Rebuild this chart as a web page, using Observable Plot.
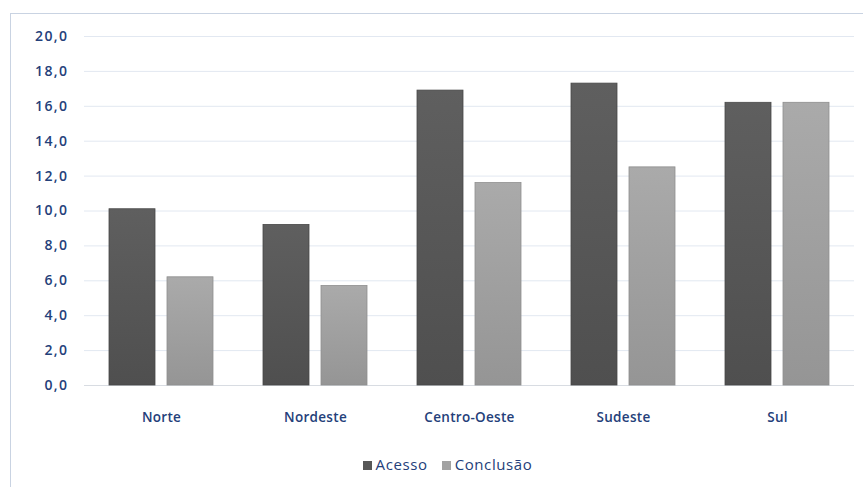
<!DOCTYPE html>
<html>
<head>
<meta charset="utf-8">
<script src="https://cdn.jsdelivr.net/npm/d3@7"></script>
<script src="https://cdn.jsdelivr.net/npm/@observablehq/plot@0.6"></script>
<style>
  html, body { margin: 0; padding: 0; background: #ffffff; }
  #wrap { position: relative; width: 863px; height: 487px; overflow: hidden; font-family: "Open Sans", sans-serif; }
  #frame { position: absolute; left: 10px; top: 13px; right: -4px; bottom: -4px;
           border-left: 1.5px solid #c9d3e2; border-top: 1.5px solid #c9d3e2; }
  #chart { position: absolute; left: 0; top: 0; }
  #legend { position: absolute; top: 454px; left: 0; width: 863px; text-align: center;
            font-size: 15px; letter-spacing: 0.6px; color: #24407a; padding-left: 32px; box-sizing: border-box; }
  #legend span.item { margin: 0 7px; white-space: nowrap; }
  #legend span.sw { display: inline-block; width: 9px; height: 9px; margin-right: 4px; vertical-align: 0px; }
</style>
</head>
<body>
<div id="wrap">
  <div id="frame"></div>
  <div id="chart"></div>
  <div id="legend"></div>
</div>
<script>
// Regions and the two series (percent)
const regions = ["Norte", "Nordeste", "Centro-Oeste", "Sudeste", "Sul"];
const series = ["Acesso", "Conclusão"];
const acesso = [10.1, 9.2, 16.9, 17.3, 16.2];
const conclusao = [6.2, 5.7, 11.6, 12.5, 16.2];
const yTicks = [0, 2, 4, 6, 8, 10, 12, 14, 16, 18, 20];

const swatch = { "Acesso": "#575757", "Conclusão": "#a2a2a2" };
const fills = { "Acesso": "url(#grad-acesso)", "Conclusão": "url(#grad-conclusao)" };
const edges = { "Acesso": "#484848", "Conclusão": "#8e8e8e" };

const rows = regions.flatMap((r, i) => [
  { region: r, serie: series[0], value: acesso[i] },
  { region: r, serie: series[1], value: conclusao[i] }
]);

const fmt = d => d.toFixed(1).replace(".", ",");

const plot = Plot.plot({
  width: 863,
  height: 440,
  marginLeft: 83,
  marginRight: 8,
  marginTop: 36,
  marginBottom: 55,
  style: { fontFamily: "Open Sans, sans-serif", background: "transparent", overflow: "visible" },
  fx: { domain: regions, padding: 0, label: null, tickSize: 0, tickPadding: 27 },
  x: { domain: series, axis: null, paddingInner: 0.2, paddingOuter: 0.41 },
  y: { domain: [0, 20], ticks: yTicks, tickFormat: fmt, label: null, tickSize: 0, tickPadding: 16 },
  marks: [
    Plot.gridY(yTicks.filter(t => t > 0), { stroke: "#e2e8f1", strokeOpacity: 1, strokeWidth: 1 }),
    Plot.ruleY([0], { stroke: "#d8dce2", strokeWidth: 1 }),
    ...series.map(s => Plot.barY(rows.filter(d => d.serie === s), {
      fx: "region", x: "serie", y: "value",
      fill: fills[s], stroke: edges[s], strokeWidth: 0.8
    }))
  ]
});

// Soft vertical shading of the bars
const ns = "http://www.w3.org/2000/svg";
const defs = document.createElementNS(ns, "defs");
const grads = [
  ["grad-acesso", [["0%", "#5f5f5f"], ["100%", "#4f4f4f"]]],
  ["grad-conclusao", [["0%", "#aaaaaa"], ["100%", "#959595"]]]
];
for (const [id, stops] of grads) {
  const g = document.createElementNS(ns, "linearGradient");
  g.setAttribute("id", id);
  g.setAttribute("x1", "0"); g.setAttribute("y1", "0");
  g.setAttribute("x2", "0"); g.setAttribute("y2", "1");
  for (const [off, col] of stops) {
    const st = document.createElementNS(ns, "stop");
    st.setAttribute("offset", off);
    st.setAttribute("stop-color", col);
    g.appendChild(st);
  }
  defs.appendChild(g);
}
plot.insertBefore(defs, plot.firstChild);

// Axis text styling
plot.querySelectorAll("[aria-label='y-axis tick label'] text, [aria-label='fx-axis tick label'] text").forEach(t => {
  t.setAttribute("fill", "#24407a");
  t.setAttribute("font-weight", "600");
});
plot.querySelectorAll("[aria-label='y-axis tick label']").forEach(g => {
  g.setAttribute("font-size", "14");
  g.setAttribute("letter-spacing", "1.4");
  g.setAttribute("fill", "#24407a");
});
plot.querySelectorAll("[aria-label='fx-axis tick label']").forEach(g => {
  g.setAttribute("font-size", "13.5");
  g.setAttribute("letter-spacing", "0.3");
  g.setAttribute("fill", "#24407a");
});

document.getElementById("chart").appendChild(plot);

// Legend
const legend = document.getElementById("legend");
for (const s of series) {
  const item = document.createElement("span");
  item.className = "item";
  const sw = document.createElement("span");
  sw.className = "sw";
  sw.style.background = swatch[s];
  item.appendChild(sw);
  item.appendChild(document.createTextNode(s));
  legend.appendChild(item);
}
</script>
</body>
</html>
